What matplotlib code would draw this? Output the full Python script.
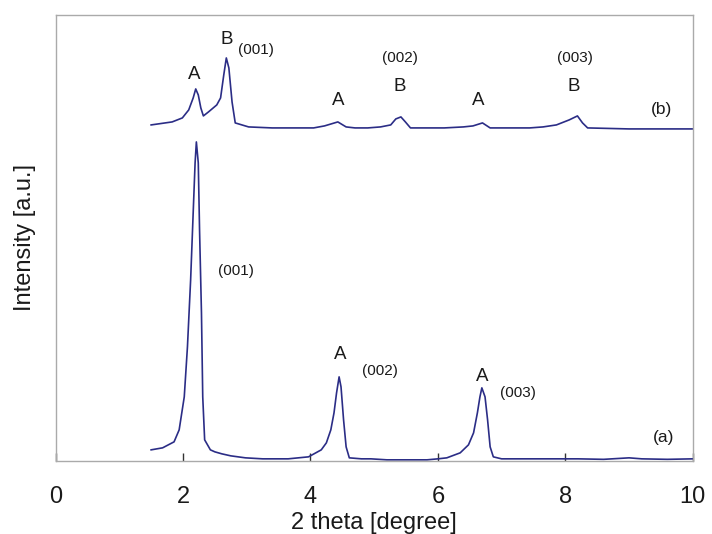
#!/usr/bin/env python3
"""XRD patterns (a) and (b), stacked with an offset."""
import matplotlib
matplotlib.use("Agg")
import matplotlib.pyplot as plt

plt.rcParams["font.family"] = ["Liberation Sans", "DejaVu Sans"]

# pattern (a)
two_theta_a = [1.50, 1.68, 1.86, 1.94, 2.02, 2.07, 2.12, 2.16, 2.19, 2.21, 2.24, 2.26,
               2.29, 2.31, 2.34, 2.43, 2.50, 2.61, 2.75, 2.98, 3.25, 3.50, 3.65, 3.97,
               4.17, 4.25, 4.32, 4.37, 4.41, 4.45, 4.48, 4.52, 4.56, 4.61, 4.80, 4.95,
               5.20, 5.52, 5.83, 6.00, 6.14, 6.35, 6.48, 6.56, 6.62, 6.66, 6.69, 6.74,
               6.78, 6.82, 6.87, 7.00, 7.18, 7.40, 7.70, 8.20, 8.60, 9.00, 9.20, 9.60,
               10.00]
intensity_a = [11, 13, 19, 31, 64, 114, 181, 248, 298, 319, 298, 231,
               148, 64, 21, 11, 9, 7, 5, 3, 2, 2, 2, 4,
               11, 18, 31, 48, 68, 84, 74, 41, 14, 3, 2, 2,
               1, 1, 1, 2, 3, 8, 16, 28, 48, 64, 73, 64,
               41, 14, 4, 2, 2, 2, 2, 2, 1.5, 3, 2, 1.5,
               2]

# pattern (b)
two_theta_b = [1.50, 1.83, 1.99, 2.09, 2.16, 2.20, 2.24, 2.28, 2.32, 2.40, 2.53, 2.59,
               2.64, 2.68, 2.72, 2.77, 2.82, 3.03, 3.40, 3.81, 4.05, 4.22, 4.43, 4.56,
               4.70, 4.90, 5.10, 5.26, 5.34, 5.42, 5.49, 5.57, 5.88, 6.10, 6.40, 6.55,
               6.70, 6.82, 7.10, 7.44, 7.65, 7.86, 8.06, 8.19, 8.27, 8.35, 9.00, 9.50,
               10.00]
intensity_b = [6, 9, 13, 21, 33, 42, 36, 23, 15, 19, 26, 33,
               56, 73, 63, 29, 8, 4, 3, 3, 3, 5, 9, 4,
               3, 3, 4, 6, 12, 14, 9, 3, 3, 3, 4, 5,
               8, 3, 3, 3, 4, 6, 11, 15, 8, 3, 2, 2,
               2]
OFFSET_B = 330

# annotations: (text, x, y, size)
labels = [
    ("A", 2.17, 386, 13.5), ("B", 2.69, 421, 13.5), ("(001)", 3.14, 411, 11),
    ("A", 4.43, 360, 13.5), ("(002)", 5.41, 403, 11), ("B", 5.40, 374, 13.5),
    ("A", 6.64, 360, 13.5), ("(003)", 8.15, 403, 11), ("B", 8.14, 374, 13.5),
    ("(b)", 9.51, 351, 12.5),
    ("(001)", 2.83, 190, 11), ("A", 4.46, 106, 13.5), ("(002)", 5.09, 90, 11),
    ("A", 6.70, 84, 13.5), ("(003)", 7.25, 68, 11), ("(a)", 9.54, 23, 12.5),
]

LINE = "#2b2d86"

fig = plt.figure(figsize=(7.12, 5.34), dpi=100)
ax = fig.add_axes([0.078, 0.137, 0.895, 0.835])
ax.plot(two_theta_a, intensity_a, color=LINE, lw=1.2)
ax.plot(two_theta_b, [v + OFFSET_B for v in intensity_b], color=LINE, lw=1.2)

for txt, x, y, size in labels:
    ax.text(x, y, txt, ha="center", va="center", fontsize=size, color="#1a1a1a")

ax.set_xlim(0, 10)
ax.set_ylim(0, 446)
ax.set_xticks([0, 2, 4, 6, 8, 10])
ax.set_yticks([])
ax.tick_params(axis="x", direction="in", length=6, width=1, color="#333333",
               labelsize=17, pad=18, labelcolor="#1a1a1a")
for s in ax.spines.values():
    s.set_color("#aaaaaa")
    s.set_linewidth(1)
ax.set_xlabel("2 theta [degree]", fontsize=17, labelpad=3, color="#1a1a1a")
ax.set_ylabel("Intensity [a.u.]", fontsize=17, labelpad=14, color="#1a1a1a")

fig.savefig("out.png", dpi=100)
